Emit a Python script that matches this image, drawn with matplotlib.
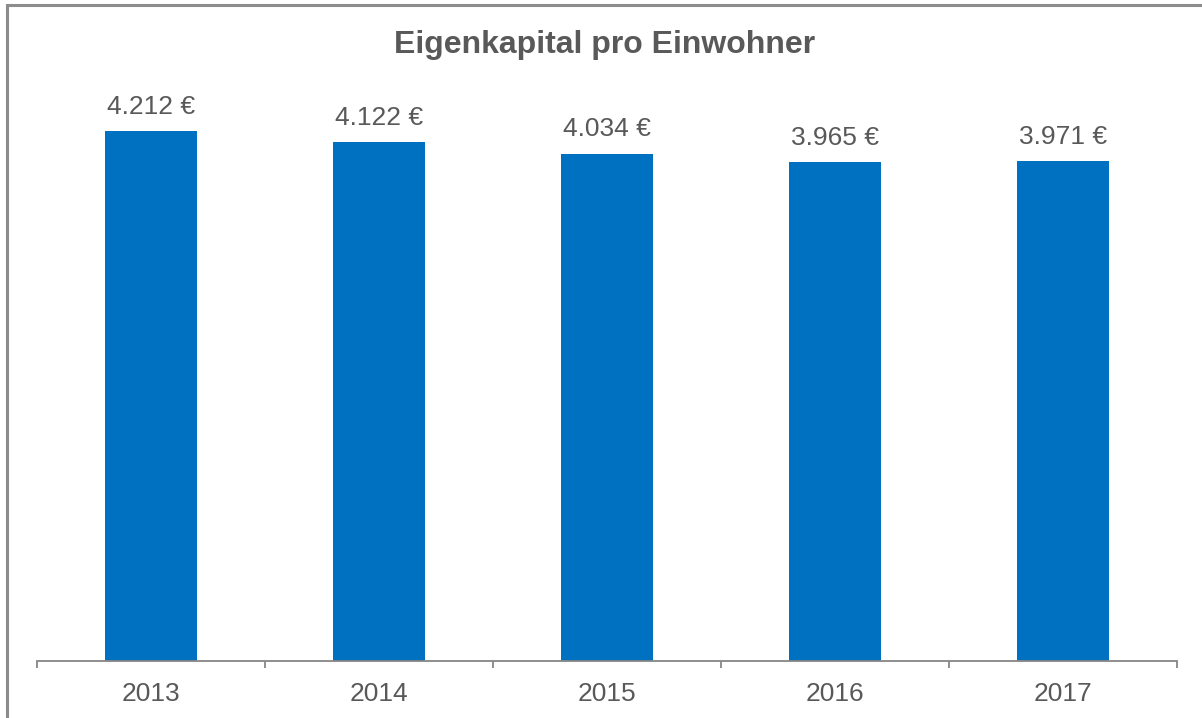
import matplotlib.pyplot as plt
from matplotlib.patches import Rectangle
import numpy as np

# data
years = ['2013', '2014', '2015', '2016', '2017']
values = [4212, 4122, 4034, 3965, 3971]
labels = ['4.212 €', '4.122 €', '4.034 €', '3.965 €', '3.971 €']

plt.rcParams['font.family'] = ['Liberation Sans', 'DejaVu Sans']
text_color = '#595959'
bar_color = '#0070C0'

fig = plt.figure(figsize=(12.02, 7.18), dpi=100)
ax = fig.add_axes([37 / 1202, 1 - 661 / 718, 1140 / 1202, 629 / 718])

x = np.arange(len(years))
bars = ax.bar(x, values, width=0.4, color=bar_color, zorder=2)

for b, lab in zip(bars, labels):
    ax.annotate(lab, (b.get_x() + b.get_width() / 2, b.get_height()),
                xytext=(0, 9), textcoords='offset points',
                ha='center', va='bottom', fontsize=19, color=text_color)

ax.set_xlim(-0.5, len(years) - 0.5)
ax.set_ylim(0, 5000)
ax.set_yticks([])
ax.set_xticks(x)
ax.set_xticklabels(years, fontsize=19, color=text_color)
ax.tick_params(axis='x', which='major', length=0, pad=15)
ax.set_xticks(np.arange(-0.5, len(years)), minor=True)
ax.tick_params(axis='x', which='minor', length=5, width=1.3, color='#868686', direction='out')

for s in ['top', 'left', 'right']:
    ax.spines[s].set_visible(False)
ax.spines['bottom'].set_color('#868686')
ax.spines['bottom'].set_linewidth(1.3)

fig.text(605 / 1202, 1 - 45 / 718, 'Eigenkapital pro Einwohner', ha='center', va='center',
         fontsize=23, fontweight='bold', color=text_color)

# chart area border
fig.patches.append(Rectangle((7 / 1202, -0.05), 1.1, 1 - 5 / 718 + 0.05,
                             transform=fig.transFigure, fill=False,
                             edgecolor='#8c8c8c', linewidth=2.2))

fig.savefig('out.png', dpi=100)
